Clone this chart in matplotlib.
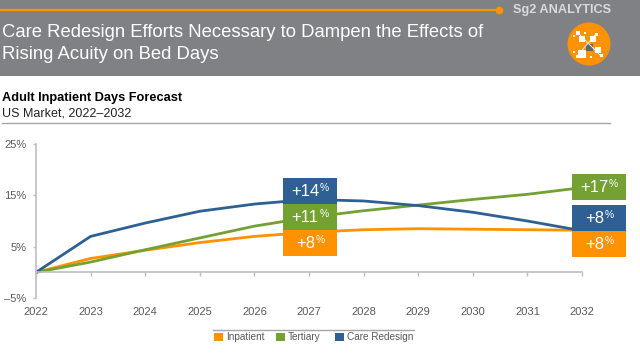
import matplotlib
matplotlib.use("Agg")
import matplotlib.pyplot as plt
from matplotlib.patches import Rectangle, Ellipse

plt.rcParams['font.family'] = ['Liberation Sans', 'DejaVu Sans']

years = [2022, 2023, 2024, 2025, 2026, 2027, 2028, 2029, 2030, 2031, 2032]
inpatient = [0, 2.7, 4.3, 5.8, 7.0, 7.8, 8.3, 8.5, 8.4, 8.3, 8.2]
tertiary = [0, 2.0, 4.4, 6.7, 9.0, 10.7, 12.0, 13.1, 14.2, 15.2, 16.5]
care_redesign = [0, 7.0, 9.6, 11.9, 13.3, 14.2, 13.9, 13.0, 11.7, 10.0, 8.1]
y_ticks = [-5, 5, 15, 25]
y_labels = ['\u20135%', '5%', '15%', '25%']

ORANGE = '#FF9200'
GREEN = '#73A233'
BLUE = '#2F6094'
HEADER = '#808184'
TICK_TEXT = '#595959'
AXIS = '#BFBFBF'

W, H = 640, 360
fig = plt.figure(figsize=(6.4, 3.6), dpi=100)

# overlay in pixel coordinates for header, subtitles, callouts and legend
over = fig.add_axes([0, 0, 1, 1], zorder=3)
over.set_xlim(0, W)
over.set_ylim(H, 0)
over.axis('off')

# chart area
ax = fig.add_axes([36 / W, 1 - 298 / H, 546 / W, 154 / H], zorder=2)
ax.patch.set_alpha(0)
ax.set_xlim(2022, 2032)
ax.set_ylim(-5, 25)
ax.plot(years, inpatient, color=ORANGE, lw=2, solid_capstyle='round')
ax.plot(years, tertiary, color=GREEN, lw=2, solid_capstyle='round')
ax.plot(years, care_redesign, color=BLUE, lw=2, solid_capstyle='round')
ax.spines['top'].set_visible(False)
ax.spines['right'].set_visible(False)
ax.spines['left'].set_color(AXIS)
ax.spines['left'].set_linewidth(1.2)
ax.spines['bottom'].set_position(('data', 0))
ax.spines['bottom'].set_color(AXIS)
ax.spines['bottom'].set_linewidth(1.2)
ax.set_xticks(years)
ax.set_yticks(y_ticks)
ax.set_yticklabels(y_labels)
ax.tick_params(axis='x', colors=AXIS, length=3, width=1, labelbottom=False)
ax.tick_params(axis='y', colors=AXIS, length=2, width=1, labelcolor=TICK_TEXT,
               labelsize=8, pad=5)
for yr in years:
    ax.annotate(str(yr), (yr, -5), xytext=(0, -6.5), textcoords='offset points',
                ha='center', va='top', fontsize=8, color=TICK_TEXT)

# header band
over.add_patch(Rectangle((0, 0), W, 76, color=HEADER, lw=0))
over.plot([0, 499], [10, 10], color=ORANGE, lw=1.6)
over.plot([499], [10], 'o', color=ORANGE, ms=4.5)
over.text(513, 10, 'Sg2 ANALYTICS', color='#D9D9D9', fontsize=9.2,
          fontweight='bold', va='center', ha='left')
over.text(2, 32.5, 'Care Redesign Efforts Necessary to Dampen the Effects of',
          color='white', fontsize=13.3, va='center', ha='left')
over.text(2, 54.5, 'Rising Acuity on Bed Days', color='white', fontsize=13.3,
          va='center', ha='left')

# logo
over.add_patch(Ellipse((589, 44), 43, 43, color=ORANGE, lw=0))
over.plot([578, 601], [33, 56], color='white', lw=0.6)
over.plot([596, 577], [34, 56], color='white', lw=0.6)
for x, y, s in [(581.7, 39.3, 6), (593, 39, 6), (598, 50, 6), (582, 54, 8),
                (578, 33, 4), (596, 34, 3), (577, 56, 3), (601, 55, 3),
                (574, 36, 2), (585, 33, 2), (591, 57, 2), (574, 52, 2)]:
    over.add_patch(Rectangle((x - s / 2, y - s / 2), s, s, color='white', lw=0))
over.add_patch(Rectangle((585.5, 43.5), 7, 7, color='#666666', lw=0))

# subtitle
over.text(2, 98, 'Adult Inpatient Days Forecast', color='black', fontsize=9.2,
          fontweight='bold', va='center', ha='left')
over.text(2, 113, 'US Market, 2022\u20132032', color='#222222', fontsize=9,
          va='center', ha='left')
over.plot([2, 610], [123, 123], color='#A6A6A6', lw=1)


def callout(x, y, h, color, pct):
    over.add_patch(Rectangle((x, y), 53.5, h, color=color, lw=0))
    w = 16.5 * (0.584 + 0.556 * (len(pct) - 1))
    start = x + 26.75 - (w + 9) / 2
    over.text(start, y + h / 2 + 0.5, pct, color='white', fontsize=12,
              ha='left', va='center')
    over.text(start + w + 0.5, y + h / 2 - 3, '%', color='white', fontsize=7.4,
              ha='left', va='center')


callout(283, 178, 26, BLUE, '+14')
callout(283, 204, 26, GREEN, '+11')
callout(283, 230, 26, ORANGE, '+8')
callout(572, 174, 26, GREEN, '+17')
callout(572, 205, 26, BLUE, '+8')
callout(572, 231, 26, ORANGE, '+8')

# legend
over.plot([213, 414], [329.5, 329.5], color='#A6A6A6', lw=1)
for x, color, label in [(214, ORANGE, 'Inpatient'), (276, GREEN, 'Tertiary'),
                        (335, BLUE, 'Care Redesign')]:
    over.add_patch(Rectangle((x, 333), 9, 8, color=color, lw=0))
    over.text(x + 12, 337, label, color=TICK_TEXT, fontsize=7.2, va='center', ha='left')

fig.savefig('out.png', dpi=100)
